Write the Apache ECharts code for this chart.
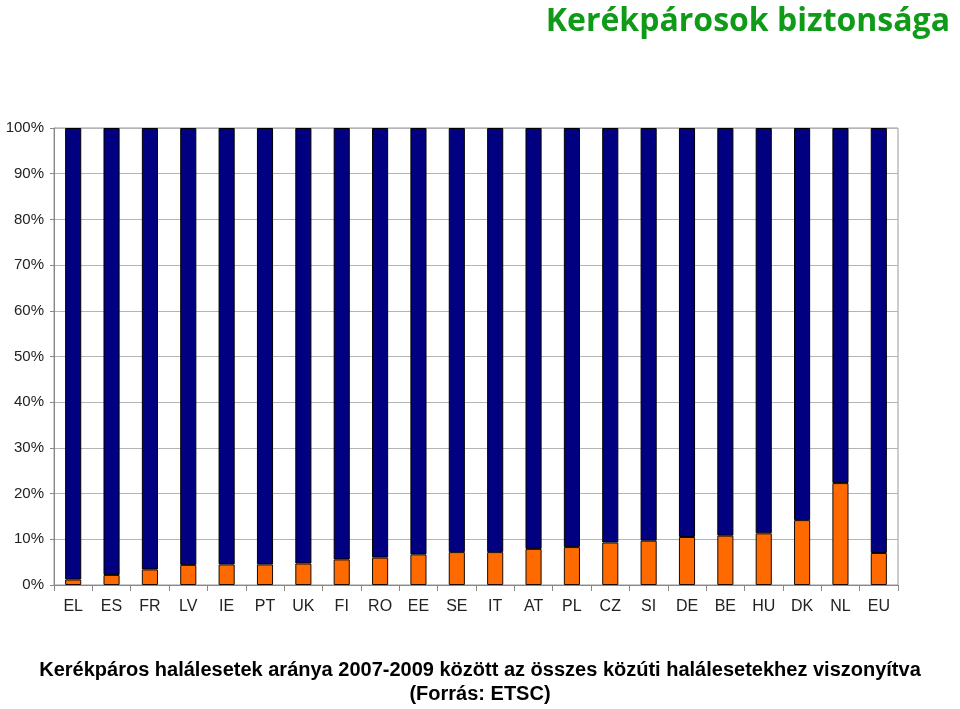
<!DOCTYPE html>
<html>
<head>
<meta charset="utf-8">
<script src="https://cdn.jsdelivr.net/npm/echarts@6/dist/echarts.min.js"></script>
<style>html,body{margin:0;padding:0;background:#fff;}#c{width:960px;height:709px;}</style>
</head>
<body>
<div id="c"></div>
<script>
const categories = ['EL','ES','FR','LV','IE','PT','UK','FI','RO','EE','SE','IT','AT','PL','CZ','SI','DE','BE','HU','DK','NL','EU'];
const cyclistShare = [1.2,2.2,3.4,4.4,4.5,4.5,4.7,5.6,6.0,6.7,7.2,7.2,7.9,8.3,9.3,9.7,10.5,10.8,11.3,14.2,22.3,7.0];
const otherShare = [98.8,97.8,96.6,95.6,95.5,95.5,95.3,94.4,94.0,93.3,92.8,92.8,92.1,91.7,90.7,90.3,89.5,89.2,88.7,85.8,77.7,93.0];
const yTicks = [0,10,20,30,40,50,60,70,80,90,100];

const subStyle = {fontFamily: 'Liberation Sans', fontWeight: 'bold', fontSize: 20, color: '#000'};
const chart = echarts.init(document.getElementById('c'));
chart.setOption({
  animation: false,
  title: [
    {text: 'Kerékpárosok biztonsága', right: 5, top: 1,
     textStyle: {fontFamily: 'Open Sans', fontWeight: 'bold', fontSize: 32, color: '#0f9a18'}},
    {text: 'Kerékpáros halálesetek aránya 2007-2009 között az összes közúti halálesetekhez viszonyítva',
     left: 'center', top: 660, padding: 0, textStyle: subStyle},
    {text: '(Forrás: ETSC)', left: 'center', top: 684, padding: 0, textStyle: subStyle}
  ],
  grid: {left: 54, right: 62, top: 128, bottom: 124, show: true, borderColor: '#999', borderWidth: 1, containLabel: false},
  xAxis: {
    type: 'category', data: categories, boundaryGap: true,
    axisLine: {lineStyle: {color: '#888'}},
    axisTick: {show: true, alignWithLabel: false, length: 6, lineStyle: {color: '#888'}},
    axisLabel: {fontFamily: 'Liberation Sans', fontSize: 16, color: '#222', margin: 14}
  },
  yAxis: {
    type: 'value', min: 0, max: 100, interval: 10,
    axisLine: {show: true, lineStyle: {color: '#888'}},
    axisTick: {show: true, length: 4, lineStyle: {color: '#888'}},
    axisLabel: {fontFamily: 'Liberation Sans', fontSize: 15, color: '#222', margin: 10,
      formatter: v => yTicks.includes(v) ? v + '%' : ''},
    splitLine: {lineStyle: {color: '#b4b4b4'}}
  },
  series: [
    {name: 'cyclist', type: 'bar', stack: 's', data: cyclistShare, barWidth: '42%',
     itemStyle: {color: '#ff6a00', borderColor: '#1a0a00', borderWidth: 1}},
    {name: 'other', type: 'bar', stack: 's', data: otherShare, barWidth: '42%',
     itemStyle: {color: '#000080', borderColor: '#000', borderWidth: 1}}
  ]
});
</script>
</body>
</html>
